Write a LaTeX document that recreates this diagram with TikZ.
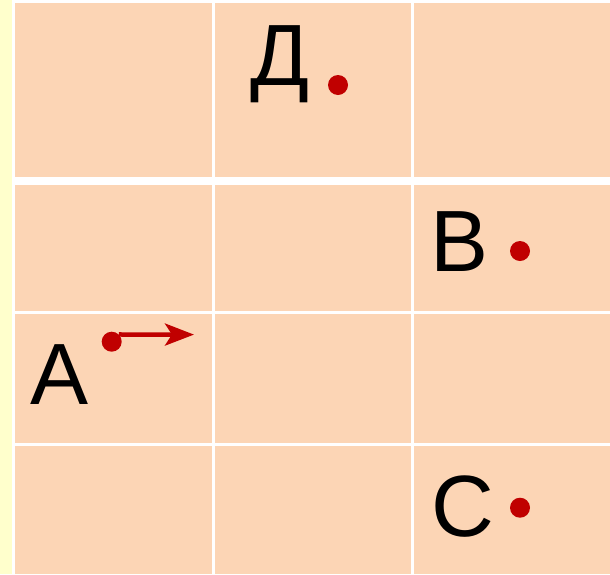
\documentclass[tikz,border=0pt]{standalone}
\usepackage{fontspec}
\setmainfont{Liberation Sans}
\usetikzlibrary{arrows.meta}
\definecolor{peach}{HTML}{FCD5B5}
\definecolor{paleyellow}{HTML}{FFFFCC}
\definecolor{dotred}{HTML}{C00000}
\begin{document}
\begin{tikzpicture}[x=1pt,y=-1pt,
  letter/.style={anchor=base,inner sep=0pt,font=\fontsize{87}{87}\selectfont},
  dot/.style={circle,fill=dotred,minimum size=20pt,inner sep=0pt},
  arrowline/.style={draw=dotred,line width=4.5pt,-{Stealth[length=29pt,width=22pt,inset=7pt]}}]
\useasboundingbox (0,0) rectangle (610,574);
\fill[white] (0,0) rectangle (610,574);
\fill[paleyellow] (0,0) rectangle (12,574);
\foreach \xa/\xb in {15/212,215/411,414/610}{
  \foreach \ya/\yb in {3/177,185/311,314/443,446/574}{
    \fill[peach] (\xa,\ya) rectangle (\xb,\yb);
  }
}
\node[letter] (D) at (280,85) {Д};
\node[letter] (B) at (460,271.7) {B};
\node[letter] (A) at (59.5,404) {A};
\node[letter] (C) at (462.5,536) {C};
\node[dot] (dD) at (338,85) {};
\node[dot] (dB) at (520,251) {};
\node[dot] (dC) at (520,507.7) {};
\node[dot] (dA) at (111.7,341.7) {};
\coordinate (aE) at (194,334.6);
\draw[arrowline] (dA.north east) -- (aE);
\end{tikzpicture}
\end{document}
